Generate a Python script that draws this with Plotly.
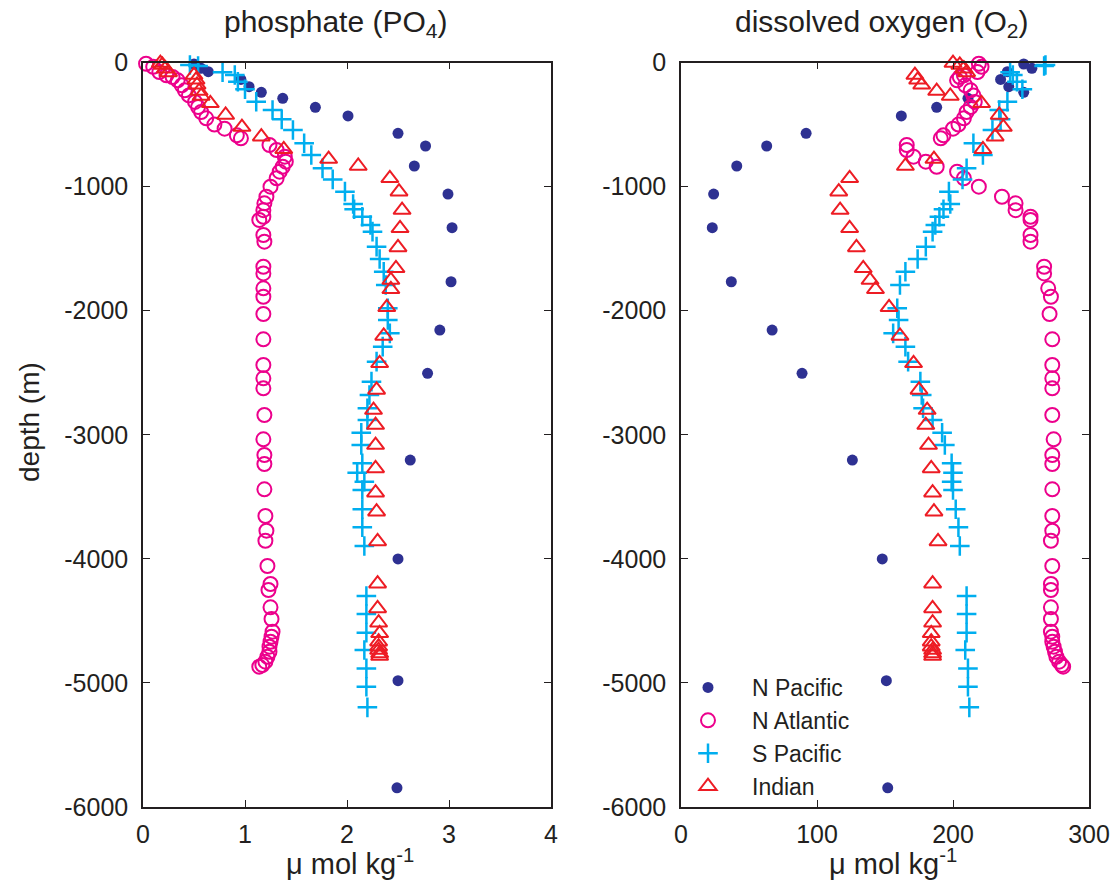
import plotly.graph_objects as go

# N Pacific (depth m, phosphate umol/kg, oxygen umol/kg)
np_depth = [-12, -47, -74, -136, -195, -240, -289, -361, -431, -571,
            -673, -834, -1060, -1331, -1767, -2156, -2505, -3204, -4001, -4982,
            -5845]
np_po4 = [0.50, 0.57, 0.64, 0.96, 1.04, 1.16, 1.37, 1.69, 2.01, 2.50,
          2.77, 2.66, 2.99, 3.03, 3.02, 2.91, 2.79, 2.62, 2.50, 2.50,
          2.49]
np_o2 = [252, 258, 240, 235, 241, 252, 211, 188, 162, 92,
         63, 41, 24, 23, 37, 67, 89, 126, 148, 151,
         152]

# N Atlantic
na_depth = [-10, -35, -77, -103, -117, -144, -184, -224, -265, -318,
            -359, -399, -450, -500, -533, -587, -611, -665, -705, -759,
            -799, -840, -880, -933, -1001, -1082, -1135, -1190, -1243, -1269,
            -1390, -1444, -1646, -1700, -1820, -1888, -2027, -2231, -2438, -2545,
            -2626, -2841, -3037, -3163, -3236, -3440, -3655, -3773, -3854, -4058,
            -4203, -4251, -4391, -4485, -4587, -4628, -4668, -4708, -4749, -4789,
            -4829, -4856, -4869]
na_po4 = [0.03, 0.10, 0.16, 0.23, 0.29, 0.34, 0.38, 0.41, 0.45, 0.51,
          0.54, 0.57, 0.62, 0.70, 0.80, 0.92, 0.96, 1.24, 1.31, 1.39,
          1.40, 1.37, 1.34, 1.31, 1.25, 1.21, 1.19, 1.18, 1.18, 1.14,
          1.18, 1.19, 1.18, 1.18, 1.18, 1.18, 1.18, 1.18, 1.18, 1.18,
          1.18, 1.19, 1.18, 1.19, 1.19, 1.19, 1.20, 1.21, 1.20, 1.22,
          1.25, 1.23, 1.25, 1.26, 1.27, 1.26, 1.25, 1.24, 1.24, 1.22,
          1.20, 1.17, 1.14]
na_o2 = [219, 221, 218, 208, 205, 203, 209, 213, 215, 216,
         213, 210, 208, 204, 200, 193, 191, 166, 166, 171,
         180, 188, 203, 208, 219, 236, 246, 246, 257, 257,
         257, 257, 267, 267, 270, 272, 271, 273, 273, 273,
         273, 273, 274, 273, 273, 273, 273, 273, 272, 273,
         272, 272, 272, 272, 272, 273, 273, 274, 275, 276,
         278, 280, 281]

# S Pacific
sp_depth = [-20, -28, -79, -101, -155, -216, -316, -383, -458, -544,
            -651, -746, -853, -942, -1041, -1140, -1183, -1243, -1310, -1363,
            -1484, -1584, -1686, -1793, -1981, -2075, -2183, -2290, -2411, -2572,
            -2680, -2787, -2881, -2984, -3083, -3230, -3306, -3378, -3445, -3601,
            -3746, -3897, -4300, -4445, -4595, -4735, -4883, -5031, -5197]
sp_po4 = [0.46, 0.54, 0.78, 0.90, 0.93, 1.00, 1.11, 1.27, 1.36, 1.47,
          1.58, 1.65, 1.76, 1.86, 1.98, 2.06, 2.07, 2.15, 2.23, 2.25,
          2.29, 2.32, 2.36, 2.38, 2.40, 2.40, 2.42, 2.35, 2.29, 2.24,
          2.22, 2.20, 2.20, 2.14, 2.14, 2.15, 2.10, 2.17, 2.15, 2.15,
          2.15, 2.17, 2.19, 2.19, 2.19, 2.17, 2.19, 2.19, 2.20]
sp_o2 = [268, 267, 242, 244, 247, 251, 240, 234, 235, 229,
         215, 222, 210, 207, 197, 198, 193, 190, 187, 185,
         180, 174, 165, 161, 159, 160, 156, 165, 167, 176,
         177, 178, 185, 192, 194, 199, 200, 199, 200, 202,
         204, 205, 210, 210, 210, 209, 211, 211, 212]

# Indian
in_depth = [-5, -20, -50, -80, -101, -140, -180, -230, -270, -329,
            -423, -520, -598, -700, -778, -834, -933, -1041, -1189, -1336,
            -1490, -1659, -1753, -1828, -1973, -2204, -2424, -2639, -2801, -2922,
            -3083, -3271, -3467, -3620, -3860, -4200, -4400, -4515, -4600, -4668,
            -4708, -4735, -4762, -4783]
in_po4 = [0.17, 0.19, 0.22, 0.25, 0.50, 0.52, 0.53, 0.55, 0.57, 0.66,
          0.81, 0.97, 1.16, 1.38, 1.82, 2.11, 2.42, 2.51, 2.54, 2.52,
          2.50, 2.48, 2.43, 2.43, 2.39, 2.36, 2.32, 2.29, 2.26, 2.28,
          2.28, 2.28, 2.28, 2.29, 2.30, 2.30, 2.30, 2.31, 2.32, 2.31,
          2.31, 2.31, 2.32, 2.32]
in_o2 = [200, 205, 208, 210, 172, 174, 177, 188, 198, 221,
         234, 237, 231, 222, 186, 165, 124, 116, 117, 124,
         129, 134, 139, 143, 153, 161, 171, 175, 181, 180,
         182, 184, 185, 186, 189, 185, 185, 185, 184, 184,
         184, 185, 185, 185]

depth_ticks = [0, -1000, -2000, -3000, -4000, -5000, -6000]
depth_tick_labels = ['0', '-1000', '-2000', '-3000', '-4000', '-5000', '-6000']
po4_ticks = [0, 1, 2, 3, 4]
o2_ticks = [0, 100, 200, 300]

ink = '#231f20'
font_family = 'Liberation Sans, Arial, sans-serif'

series = [
    ('N Pacific', np_depth, np_po4, np_o2,
     dict(symbol='circle', size=11, color='#2e3192')),
    ('N Atlantic', na_depth, na_po4, na_o2,
     dict(symbol='circle-open', size=14, color='#ec008c', line=dict(width=2, color='#ec008c'))),
    ('S Pacific', sp_depth, sp_po4, sp_o2,
     dict(symbol='cross-thin', size=14, color='#00aeef', line=dict(width=2.5, color='#00aeef'))),
    ('Indian', in_depth, in_po4, in_o2,
     dict(symbol='triangle-up-open', size=15, color='#ed1c24', line=dict(width=2, color='#ed1c24'))),
]

fig = go.Figure()

for name, depth, po4, o2, marker in series:
    # phosphate panel
    fig.add_trace(go.Scatter(x=po4, y=depth, mode='markers', name=name,
                             marker=marker, showlegend=False, cliponaxis=False,
                             xaxis='x', yaxis='y'))
    # oxygen panel (carries the legend)
    fig.add_trace(go.Scatter(x=o2, y=depth, mode='markers', name=name,
                             marker=marker, showlegend=True, cliponaxis=False,
                             xaxis='x2', yaxis='y2'))

W, H = 1117, 888
axis_style = dict(showline=True, mirror='ticks', ticks='inside', ticklen=7,
                  tickwidth=1.2, tickcolor=ink, linecolor=ink, linewidth=1.5,
                  showgrid=False, zeroline=False, automargin=False,
                  tickfont=dict(size=25, color=ink, family=font_family))

ydom = [1 - 807 / H, 1 - 62.5 / H]

fig.update_layout(
    width=W, height=H,
    margin=dict(l=0, r=0, t=0, b=0, autoexpand=False),
    paper_bgcolor='white', plot_bgcolor='white',
    font=dict(family=font_family, size=24, color=ink),
    xaxis=dict(axis_style, domain=[143 / W, 551 / W], range=[0, 4],
               tickvals=po4_ticks, anchor='y', ticklabelstandoff=4),
    yaxis=dict(axis_style, domain=ydom, range=[-6000, 0],
               tickvals=depth_ticks, ticktext=depth_tick_labels,
               anchor='x', ticklabelstandoff=8),
    xaxis2=dict(axis_style, domain=[681 / W, 1089 / W], range=[0, 300],
                tickvals=o2_ticks, anchor='y2', ticklabelstandoff=4),
    yaxis2=dict(axis_style, domain=ydom, range=[-6000, 0],
                tickvals=depth_ticks, ticktext=depth_tick_labels,
                anchor='x2', ticklabelstandoff=8),
    legend=dict(x=664 / W, y=1 - 666 / H, xanchor='left', yanchor='top',
                bgcolor='rgba(0,0,0,0)', borderwidth=0, itemwidth=78,
                tracegroupgap=0,
                font=dict(size=23, color=ink, family=font_family)),
    showlegend=True,
)

annotations = [
    dict(text='phosphate (PO<sub>4</sub>)', x=335 / W, y=1 - 24 / H, size=30),
    dict(text='dissolved oxygen (O<sub>2</sub>)', x=882 / W, y=1 - 24 / H, size=30),
    dict(text='\u03bc mol kg<sup>-1</sup>', x=350 / W, y=1 - 862 / H, size=29),
    dict(text='\u03bc mol kg<sup>-1</sup>', x=893 / W, y=1 - 862 / H, size=29),
]
for a in annotations:
    fig.add_annotation(text=a['text'], xref='paper', yref='paper', x=a['x'], y=a['y'],
                       xanchor='center', yanchor='middle', showarrow=False,
                       font=dict(size=a['size'], color=ink, family=font_family))

fig.add_annotation(text='depth (m)', xref='paper', yref='paper', x=30 / W, y=1 - 422 / H,
                   xanchor='center', yanchor='middle', showarrow=False, textangle=-90,
                   font=dict(size=28, color=ink, family=font_family))

# the page must not add its own margin around the fixed-size figure
fig.write_html('out.html', config={'displayModeBar': False},
               post_script="document.body.style.margin='0';document.body.style.overflow='hidden';")
